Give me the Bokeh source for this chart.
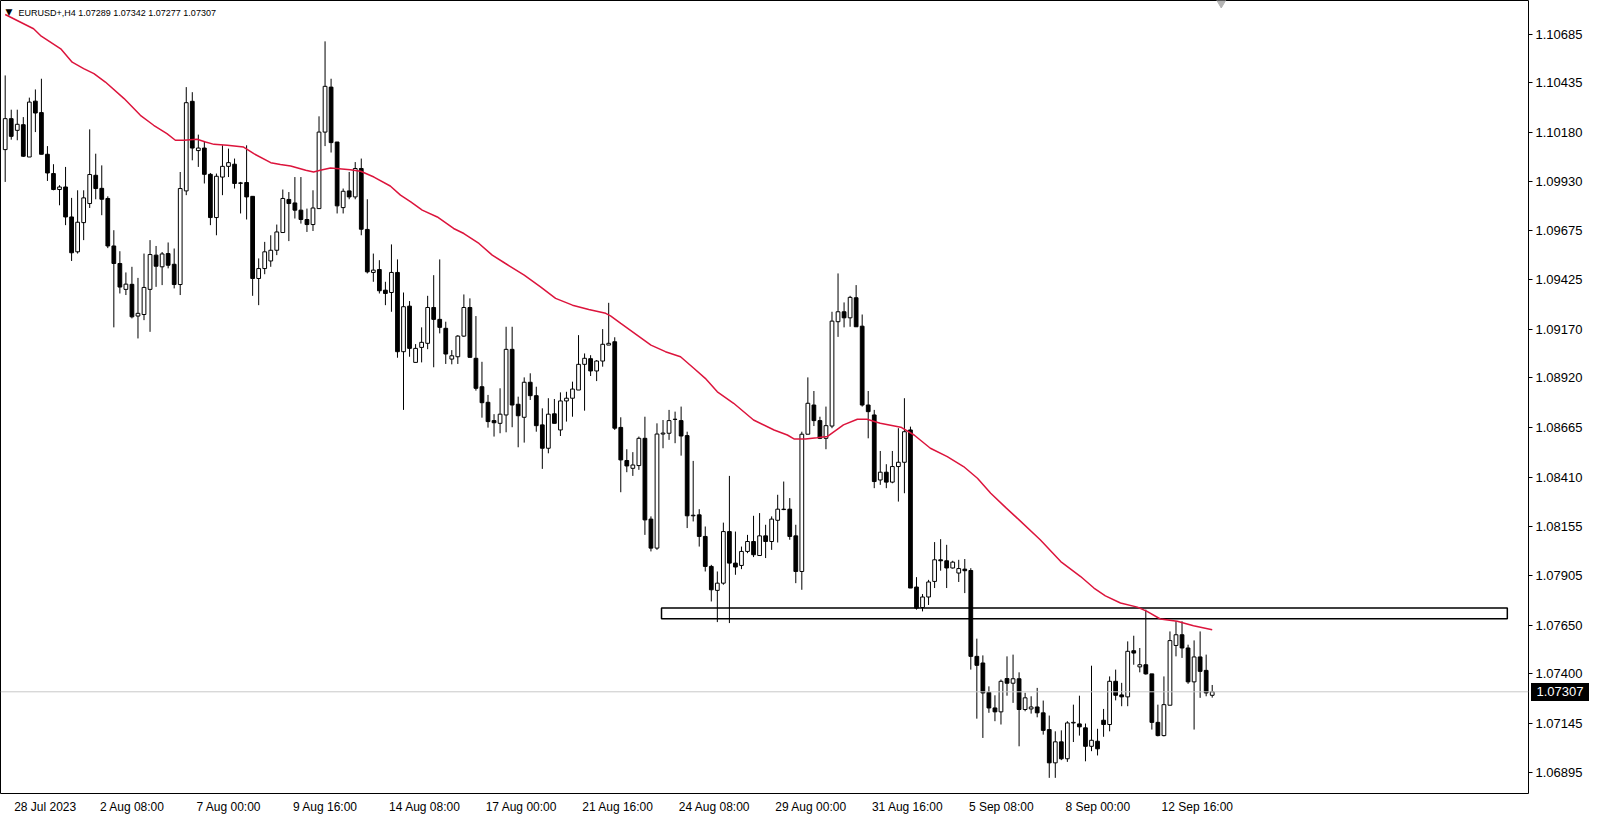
from bokeh.plotting import figure
from bokeh.layouts import column
from bokeh.models import Range1d, FixedTicker, PrintfTickFormatter, Span, Label, Div
from bokeh.embed import file_html
from bokeh.resources import INLINE

symbol = "EURUSD+,H4"

opens = [1.10092,1.10251,1.10191,1.10220,1.10054,1.10341,1.10282,1.10068,1.09969,1.09887,
1.09900,1.09746,1.09567,1.09717,1.09815,1.09960,1.09893,1.09841,1.09597,1.09507,
1.09374,1.09400,1.09237,1.09245,1.09374,1.09550,1.09490,1.09558,1.09503,1.09399,
1.09880,1.10340,1.10087,1.10100,1.09965,1.09743,1.09951,1.10006,1.10017,1.09921,
1.09923,1.09852,1.09430,1.09481,1.09520,1.09575,1.09666,1.09836,1.09818,1.09781,
1.09733,1.09707,1.09789,1.10182,1.10413,1.10131,1.09794,1.09880,1.09849,1.09995,
1.09682,1.09461,1.09476,1.09370,1.09358,1.09461,1.09054,1.09288,1.08999,1.09076,
1.09097,1.09281,1.09220,1.09174,1.09016,1.09028,1.09134,1.09281,1.09020,1.08874,
1.08794,1.08700,1.08686,1.08729,1.09066,1.08784,1.08717,1.08897,1.08828,1.08678,
1.08558,1.08735,1.08652,1.08801,1.08815,1.08857,1.08989,1.09018,1.08955,1.09006,
1.09088,1.09105,1.08665,1.08495,1.08455,1.08469,1.08609,1.08194,1.08045,1.08631,
1.08635,1.08706,1.08700,1.08623,1.08211,1.08216,1.08105,1.07951,1.07828,1.07865,
1.08130,1.07968,1.07956,1.08028,1.08079,1.08007,1.08108,1.08079,1.08188,1.08245,
1.08245,1.08108,1.07925,1.08630,1.08780,1.08700,1.08609,1.08672,1.09208,1.09259,
1.09228,1.09331,1.09185,1.08780,1.08729,1.08395,1.08435,1.08384,1.08464,1.08486,
1.08652,1.07845,1.07740,1.07794,1.07874,1.07985,1.07980,1.07943,1.07917,1.07937,
1.07930,1.07489,1.07455,1.07304,1.07224,1.07204,1.07375,1.07351,1.07374,1.07216,
1.07219,1.07229,1.07199,1.07113,1.06942,1.07050,1.06963,1.07147,1.07142,1.07122,
1.07027,1.07053,1.07161,1.07139,1.07361,1.07291,1.07281,1.07518,1.07435,1.07446,
1.07399,1.07150,1.07082,1.07238,1.07545,1.07600,1.07532,1.07358,1.07486,1.07417,
1.07289]

highs = [1.10473,1.10297,1.10297,1.10259,1.10359,1.10401,1.10456,1.10110,1.10017,1.09909,
1.10003,1.09844,1.09883,1.09883,1.10196,1.10071,1.10011,1.09852,1.09678,1.09570,
1.09461,1.09490,1.09433,1.09558,1.09627,1.09597,1.09566,1.09615,1.09584,1.09977,
1.10413,1.10387,1.10169,1.10131,1.09972,1.09969,1.10114,1.10097,1.10046,1.09926,
1.10114,1.09852,1.09533,1.09618,1.09652,1.09707,1.09887,1.09874,1.09951,1.09951,
1.09789,1.09883,1.10263,1.10648,1.10456,1.10131,1.09892,1.09977,1.10028,1.10046,
1.09837,1.09558,1.09524,1.09413,1.09605,1.09528,1.09358,1.09314,1.09093,1.09179,
1.09341,1.09447,1.09528,1.09208,1.09062,1.09139,1.09348,1.09328,1.09237,1.09002,
1.08832,1.08733,1.08866,1.09182,1.09182,1.08823,1.08922,1.08943,1.08874,1.08763,
1.08815,1.08811,1.08845,1.08848,1.08900,1.09139,1.09045,1.09036,1.09011,1.09170,
1.09305,1.09128,1.08717,1.08553,1.08538,1.08618,1.08720,1.08208,1.08686,1.08703,
1.08755,1.08746,1.08772,1.08643,1.08493,1.08245,1.08156,1.07959,1.07925,1.08176,
1.08416,1.08130,1.08053,1.08113,1.08211,1.08225,1.08165,1.08208,1.08319,1.08387,
1.08302,1.08165,1.08643,1.08922,1.08852,1.08720,1.08772,1.09259,1.09456,1.09307,
1.09341,1.09396,1.09245,1.08852,1.08755,1.08544,1.08476,1.08544,1.08661,1.08815,
1.08669,1.07896,1.07809,1.07882,1.08076,1.08091,1.08062,1.07980,1.07985,1.07989,
1.07942,1.07580,1.07494,1.07335,1.07289,1.07370,1.07489,1.07498,1.07407,1.07302,
1.07284,1.07327,1.07262,1.07185,1.07104,1.07109,1.07156,1.07241,1.07287,1.07144,
1.07441,1.07117,1.07219,1.07386,1.07421,1.07353,1.07566,1.07595,1.07532,1.07729,
1.07399,1.07241,1.07386,1.07617,1.07669,1.07669,1.07549,1.07571,1.07617,1.07498,
1.07342]

lows = [1.09926,1.10143,1.10140,1.10054,1.10054,1.10182,1.10068,1.09931,1.09883,1.09806,
1.09704,1.09520,1.09558,1.09627,1.09792,1.09837,1.09755,1.09586,1.09179,1.09353,
1.09345,1.09225,1.09122,1.09216,1.09156,1.09387,1.09396,1.09482,1.09379,1.09345,
1.09858,1.10037,1.10003,1.09918,1.09704,1.09652,1.09858,1.09951,1.09892,1.09764,
1.09733,1.09341,1.09293,1.09452,1.09490,1.09550,1.09666,1.09622,1.09738,1.09712,
1.09669,1.09674,1.09789,1.10110,1.10077,1.09764,1.09764,1.09837,1.09837,1.09652,
1.09456,1.09413,1.09353,1.09293,1.09259,1.09023,1.08755,1.09028,1.08999,1.08999,
1.09067,1.08974,1.09148,1.08991,1.08989,1.08991,1.09130,1.09025,1.08854,1.08715,
1.08664,1.08618,1.08635,1.08640,1.08666,1.08563,1.08587,1.08806,1.08643,1.08452,
1.08532,1.08686,1.08621,1.08695,1.08720,1.08857,1.08751,1.08929,1.08903,1.08977,
1.09088,1.08652,1.08332,1.08435,1.08416,1.08447,1.08113,1.08028,1.08036,1.08558,
1.08601,1.08584,1.08520,1.08148,1.08182,1.08053,1.07925,1.07771,1.07665,1.07857,
1.07660,1.07908,1.07937,1.08019,1.07999,1.08007,1.07994,1.08036,1.08074,1.08240,
1.08088,1.07865,1.07831,1.08630,1.08672,1.08605,1.08553,1.08661,1.09130,1.09179,
1.09182,1.09182,1.08772,1.08609,1.08353,1.08370,1.08353,1.08378,1.08284,1.08327,
1.07840,1.07729,1.07720,1.07753,1.07840,1.07929,1.07840,1.07940,1.07871,1.07814,
1.07421,1.07169,1.07070,1.07199,1.07156,1.07139,1.07287,1.07250,1.07027,1.07207,
1.07195,1.07176,1.07087,1.06865,1.06865,1.06956,1.06947,1.07049,1.07082,1.06950,
1.07002,1.06980,1.07076,1.07104,1.07263,1.07233,1.07233,1.07446,1.07407,1.07395,
1.07113,1.07078,1.07078,1.07238,1.07489,1.07481,1.07348,1.07113,1.07276,1.07284,
1.07277]

closes = [1.10251,1.10160,1.10222,1.10058,1.10336,1.10280,1.10068,1.09972,1.09887,1.09900,
1.09746,1.09562,1.09719,1.09844,1.09964,1.09892,1.09837,1.09597,1.09507,1.09386,
1.09401,1.09233,1.09251,1.09384,1.09553,1.09493,1.09556,1.09498,1.09399,1.09892,
1.10333,1.10100,1.10100,1.09965,1.09743,1.09955,1.10006,1.10025,1.09918,1.09919,
1.09849,1.09430,1.09481,1.09567,1.09575,1.09669,1.09841,1.09815,1.09781,1.09733,
1.09707,1.09792,1.10182,1.10417,1.10128,1.09803,1.09878,1.09849,1.09995,1.09683,
1.09464,1.09473,1.09367,1.09353,1.09461,1.09054,1.09285,1.09071,1.09071,1.09102,
1.09281,1.09220,1.09179,1.09042,1.09033,1.09134,1.09281,1.09025,1.08866,1.08792,
1.08695,1.08689,1.08733,1.09066,1.08780,1.08725,1.08897,1.08828,1.08674,1.08558,
1.08733,1.08686,1.08801,1.08815,1.08862,1.08989,1.09020,1.08955,1.09006,1.09092,
1.09097,1.08661,1.08498,1.08467,1.08472,1.08609,1.08190,1.08045,1.08631,1.08636,
1.08700,1.08707,1.08621,1.08211,1.08214,1.08105,1.07951,1.07831,1.07865,1.08130,
1.07968,1.07948,1.08028,1.08079,1.08011,1.08108,1.08079,1.08194,1.08245,1.08243,
1.08105,1.07925,1.08630,1.08789,1.08700,1.08609,1.08674,1.09211,1.09259,1.09228,
1.09333,1.09182,1.08780,1.08746,1.08387,1.08435,1.08384,1.08464,1.08486,1.08643,
1.07840,1.07737,1.07794,1.07871,1.07985,1.07980,1.07943,1.07973,1.07940,1.07929,
1.07489,1.07443,1.07301,1.07224,1.07204,1.07361,1.07351,1.07374,1.07216,1.07276,
1.07229,1.07199,1.07109,1.06942,1.07050,1.06963,1.07147,1.07150,1.07127,1.07027,
1.07058,1.07014,1.07139,1.07361,1.07289,1.07281,1.07515,1.07506,1.07446,1.07399,
1.07150,1.07082,1.07241,1.07570,1.07600,1.07532,1.07358,1.07486,1.07412,1.07301,
1.07307]

# moving average: (bar index, value)
ma_idx = [0, 4.7, 5.85, 9.2, 11.1, 13.0, 14.7, 16.6, 19.7, 22.4, 24.6, 26.8, 28.2, 29.6, 31.8,
          33.2, 34.6, 36.8, 39.5, 41.2, 44.0, 45.6, 47.3, 49.8, 51.1, 52.2, 53.9, 57.2, 58.9,
          61.1, 63.8, 65.5, 67.2, 69.1, 71.6, 74.3, 76.0, 78.5, 80.7, 82.9, 86.0, 88.7, 91.2,
          94.0, 96.7, 99.5, 100.3, 102.0, 104.7, 107.0, 109.4, 111.9, 114.1, 116.0, 118.0,
          120.7, 124.0, 127.4, 129.6, 130.7, 132.6, 134.5, 136.2, 138.9, 141.2, 142.8, 145.0,
          148.4, 150.6, 153.3, 156.1, 158.8, 161.1, 163.3, 165.8, 168.0, 171.5, 174.9, 178.2,
          180.4, 182.3, 184.8, 187.6, 189.2, 191.4, 194.2, 196.9, 200.0]
ma_val = [1.10786, 1.10713, 1.10678, 1.10610, 1.10541, 1.10508, 1.10482, 1.10439, 1.10354,
          1.10268, 1.10217, 1.10174, 1.10140, 1.10140, 1.10145, 1.10131, 1.10119, 1.10114,
          1.10105, 1.10071, 1.10025, 1.10015, 1.10008, 1.09986, 1.09977, 1.09986, 1.09998,
          1.09989, 1.09981, 1.09951, 1.09905, 1.09858, 1.09823, 1.09781, 1.09746, 1.09687,
          1.09661, 1.09610, 1.09550, 1.09507, 1.09447, 1.09387, 1.09328, 1.09293, 1.09271,
          1.09251, 1.09238, 1.09199, 1.09139, 1.09088, 1.09054, 1.09028, 1.08969, 1.08917,
          1.08848, 1.08789, 1.08703, 1.08652, 1.08626, 1.08606, 1.08606, 1.08612, 1.08618,
          1.08678, 1.08707, 1.08707, 1.08686, 1.08666, 1.08626, 1.08558, 1.08515, 1.08464,
          1.08404, 1.08327, 1.08253, 1.08190, 1.08088, 1.07976, 1.07899, 1.07840, 1.07800,
          1.07763, 1.07742, 1.07720, 1.07681, 1.07669, 1.07646, 1.07626]

date_tick_idx = [0, 16, 32, 48, 64, 80, 96, 112, 128, 144, 160, 176, 192]
date_labels = ["28 Jul 2023", "2 Aug 08:00", "7 Aug 00:00", "9 Aug 16:00", "14 Aug 08:00",
               "17 Aug 00:00", "21 Aug 16:00", "24 Aug 08:00", "29 Aug 00:00", "31 Aug 16:00",
               "5 Sep 08:00", "8 Sep 00:00", "12 Sep 16:00"]

price_ticks = [1.10685, 1.10435, 1.10180, 1.09930, 1.09675, 1.09425, 1.09170, 1.08920,
               1.08665, 1.08410, 1.08155, 1.07905, 1.07650, 1.07400, 1.07145, 1.06895]

last_price = 1.07307
zone_left, zone_right = 108.75, 248.9
zone_bottom, zone_top = 1.07682, 1.07737
shift_marker_idx = 201.5

# ---------------------------------------------------------------
n = len(opens)
idx = list(range(n))
body_top = [max(o, c) for o, c in zip(opens, closes)]
body_bot = [min(o, c) for o, c in zip(opens, closes)]
body_fill = ["white" if c >= o else "black" for o, c in zip(opens, closes)]

FONT = "Liberation Sans"
BAR_PX = 6.035   # pixels per bar in the reference
Y_TOP, Y_BOT = 1.108579, 1.067846
CHART_H = 816

chart = figure(width=1600, height=CHART_H,
               x_range=Range1d(-0.779, 252.41), y_range=Range1d(Y_BOT, Y_TOP),
               output_backend="svg", toolbar_location=None, y_axis_location="right",
               min_border_left=0, min_border_top=0, min_border_right=72, min_border_bottom=22,
               background_fill_color="white", border_fill_color="white")
chart.outline_line_color = "black"
chart.outline_line_width = 1
chart.grid.visible = False

ya = chart.yaxis[0]
ya.ticker = FixedTicker(ticks=price_ticks)
ya.formatter = PrintfTickFormatter(format="%.5f")
ya.axis_line_color = None
ya.major_tick_in = 0
ya.major_tick_out = 4
ya.minor_tick_out = 0
ya.minor_tick_in = 0
ya.major_label_standoff = 3
ya.major_label_text_font = FONT
ya.major_label_text_font_size = "13px"
ya.major_label_text_color = "black"

# time labels, left-aligned to their bar like the terminal does
label_pos = []
for k, s in zip(date_tick_idx, date_labels):
    start = 7.5 if k == 0 else -2.0
    label_pos.append(round(k + (start + 5.9 * len(s) / 2) / BAR_PX, 2))
xa = chart.xaxis[0]
xa.ticker = FixedTicker(ticks=label_pos)
xa.major_label_overrides = {pos: s for pos, s in zip(label_pos, date_labels)}
xa.axis_line_color = None
xa.major_tick_in = 0
xa.major_tick_out = 0
xa.minor_tick_out = 0
xa.minor_tick_in = 0
xa.major_label_standoff = 6
xa.major_label_text_font = FONT
xa.major_label_text_font_size = "12px"
xa.major_label_text_color = "black"

# zone rectangle (behind candles)
chart.quad(left=[zone_left], right=[zone_right], bottom=[zone_bottom], top=[zone_top],
           fill_color=None, line_color="black", line_width=1.5)

# current price line
chart.add_layout(Span(location=last_price, dimension="width", line_color="#C8C8C8", line_width=1))

# candles
chart.segment(x0=idx, y0=lows, x1=idx, y1=highs, line_color="black", line_width=1)
chart.vbar(x=idx, width=0.62, bottom=body_bot, top=body_top, fill_color=body_fill,
           line_color="black", line_width=1)

# moving average
chart.line(ma_idx, ma_val, line_color="#DC143C", line_width=1.5)

# chart-shift marker at the top
chart.scatter(x=[shift_marker_idx], y=[Y_TOP], marker="inverted_triangle", size=13,
              fill_color="#B4B4B4", line_color="#B4B4B4")

# header text
chart.add_layout(Label(x=5, y=782, x_units="screen", y_units="screen", text="\u25BC",
                       text_font="DejaVu Sans", text_font_size="9px", text_baseline="middle",
                       text_color="black"))
chart.add_layout(Label(x=18, y=781, x_units="screen", y_units="screen",
                       text=f"{symbol}  {opens[-1]:.5f} {highs[-1]:.5f} {lows[-1]:.5f} {closes[-1]:.5f}",
                       text_font=FONT, text_font_size="9px", text_baseline="middle",
                       text_color="black"))

# current price box on the price scale, placed at the price's pixel row
price_row = (Y_TOP - last_price) / (Y_TOP - Y_BOT) * 794
box = Div(text=f"{last_price:.5f}", width=58, height=18,
          margin=(int(round(price_row - 9)) - CHART_H, 0, 0, 1531),
          styles={"background-color": "black", "color": "white",
                  "font-family": FONT, "font-size": "13px", "line-height": "18px",
                  "text-align": "center", "overflow": "hidden"})

p = column(chart, box, spacing=0)

open("out.html", "w").write(file_html(p, INLINE))
